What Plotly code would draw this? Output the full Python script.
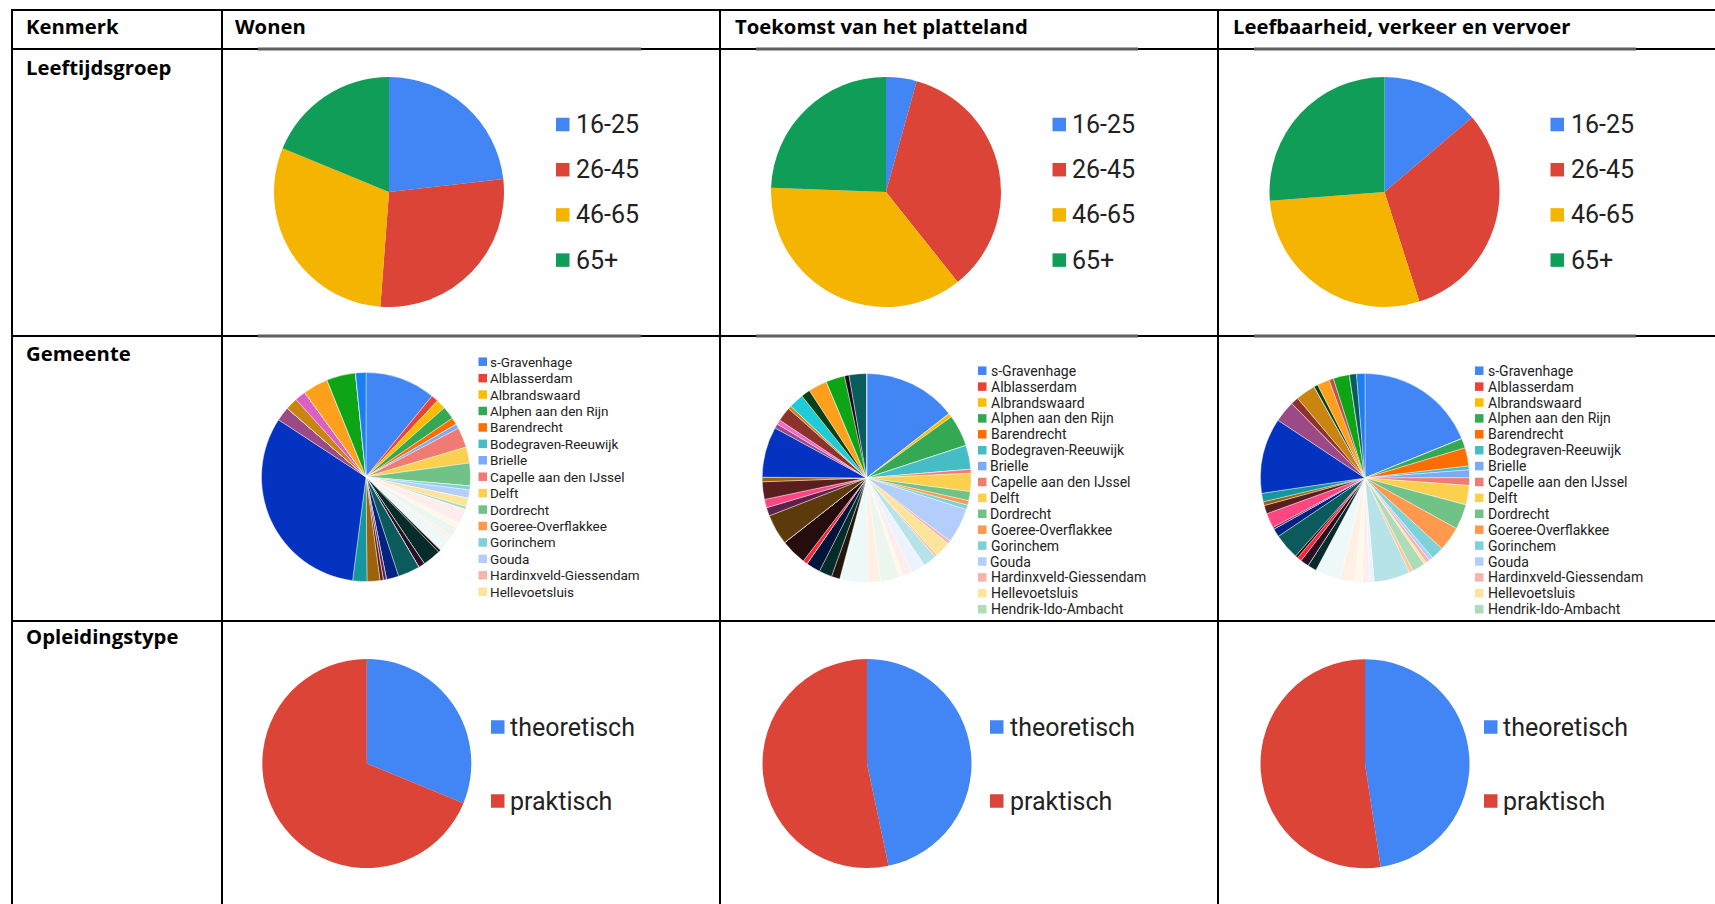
import plotly.graph_objects as go

W, H = 1715, 904

# ---------------- data ----------------
COLUMNS = ["Wonen", "Toekomst van het platteland", "Leefbaarheid, verkeer en vervoer"]
ROWS = ["Leeftijdsgroep", "Gemeente", "Opleidingstype"]
HEADER = "Kenmerk"

AGE_LABELS = ["16-25", "26-45", "46-65", "65+"]
AGE_COLORS = ["#4285F4", "#DB4437", "#F4B400", "#0F9D58"]
AGE_WONEN = [23.2, 28.0, 30.0, 18.8]
AGE_TOEKOMST = [4.3, 35.0, 36.3, 24.4]
AGE_LEEF = [13.8, 31.3, 28.7, 26.2]

EDU_LABELS = ["theoretisch", "praktisch"]
EDU_COLORS = ["#4285F4", "#DB4437"]
EDU_WONEN = [31.2, 68.8]
EDU_TOEKOMST = [46.7, 53.3]
EDU_LEEF = [47.6, 52.4]

GEMEENTEN = [
    "s-Gravenhage", "Alblasserdam", "Albrandswaard", "Alphen aan den Rijn", "Barendrecht",
    "Bodegraven-Reeuwijk", "Brielle", "Capelle aan den IJssel", "Delft", "Dordrecht",
    "Goeree-Overflakkee", "Gorinchem", "Gouda", "Hardinxveld-Giessendam", "Hellevoetsluis",
    "Hendrik-Ido-Ambacht", "Hillegom", "Hoeksche Waard", "Kaag en Braassem", "Katwijk",
    "Krimpen aan den IJssel", "Krimpenerwaard", "Lansingerland", "Leiden", "Leiderdorp",
    "Leidschendam-Voorburg", "Lisse", "Maassluis", "Midden-Delfland", "Molenlanden",
    "Nieuwkoop", "Nissewaard", "Noordwijk", "Oegstgeest", "Papendrecht",
    "Pijnacker-Nootdorp", "Ridderkerk", "Rijswijk", "Rotterdam", "Schiedam",
    "Sliedrecht", "Teylingen", "Vlaardingen", "Voorschoten", "Waddinxveen",
    "Wassenaar", "Westland", "Westvoorne", "Zoetermeer", "Zoeterwoude",
    "Zuidplas", "Zwijndrecht",
]
GEM_COLORS = [
    "#4285F4", "#EA4335", "#FBBC04", "#34A853", "#FF6D01", "#46BDC6", "#7BAAF7", "#F07B72",
    "#FCD04F", "#71C287", "#FF994D", "#7ED1D7", "#B3CEFB", "#F7B4AE", "#FDE49B", "#AEDCBA",
    "#FFC599", "#B5E3E8", "#ECF3FE", "#FDEDEC", "#FEF8E6", "#EBF6EE", "#FFF0E6", "#EDF8F9",
    "#22150A", "#062B2B", "#021439", "#2B0F22", "#FF2138", "#250D0D", "#0B5A5C", "#032282",
    "#5C3A0B", "#5E214B", "#FF4683", "#5B1E1E", "#9E620B", "#16969D", "#0433C2", "#9C4A87",
    "#F567CC", "#8D322C", "#C9850F", "#DC5FC6", "#1FCBD6", "#0A4114", "#FFA01C", "#C5504B",
    "#0DA415", "#1B0A1C", "#0A5C5C", "#1B7EF2",
]
GEM_WONEN = [10.9, 1.1, 1.5, 2.0, 1.1, 0, 0.7, 3.1, 2.5, 3.5,
             0, 0.6, 1.3, 0, 1.3, 0.5, 0, 0, 0, 2.3,
             0.8, 1.5, 0.5, 2.2, 0.4, 2.8, 0, 1.0, 0, 0,
             3.4, 1.9, 0, 0.5, 0, 0.5, 2.0, 2.2, 32.2, 2.2,
             0, 0, 1.9, 1.7, 0, 0, 3.9, 0, 4.5, 0,
             0, 1.6]
GEM_TOEKOMST = [14.4, 0, 0.6, 4.9, 0, 3.7, 0, 0.6, 2.8, 1.4,
                0.7, 0.7, 5.4, 0.5, 2.4, 0, 0.4, 2.1, 2.2, 1.4,
                0.6, 2.9, 2.1, 4.2, 1.3, 2.0, 2.2, 0, 0.7, 4.0,
                0, 0, 4.7, 1.3, 1.3, 2.7, 0.7, 0, 7.8, 0.7,
                0.7, 2.2, 0.5, 0, 2.3, 1.4, 2.9, 0, 2.9, 0.7,
                2.7, 0]
GEM_LEEF = [18.9, 0, 0, 1.5, 2.8, 0.6, 1.2, 1.2, 3.0, 3.9,
            3.8, 2.0, 0.6, 0.6, 0.4, 2.0, 0.6, 5.6, 0.7, 1.1,
            1.2, 0, 2.3, 3.9, 0, 1.4, 0, 1.3, 0.7, 0.4,
            4.0, 1.3, 0, 0.3, 2.3, 1.3, 0.6, 1.3, 11.7, 3.3,
            0, 1.2, 3.1, 0, 0, 0.6, 1.9, 0.7, 2.5, 0,
            1.1, 1.3]
GEM_LEGEND_COUNT = [15, 16, 16]

# ---------------- layout geometry (pixels) ----------------
COL_X = [12, 222, 720, 1218]
ROW_Y = [10, 49, 336, 621]
AGE_CENTERS = [(389, 192), (886, 192), (1384.5, 192)]
AGE_R = 115
GEM_CENTERS = [(366, 477), (866.7, 478), (1365, 478)]
GEM_R = 104.5
EDU_CENTERS = [(366.8, 763.5), (867, 763.6), (1365, 763.7)]
EDU_R = 104.5


def px(x):
    return x / W


def py(y):
    return 1 - y / H


fig = go.Figure()


def add_pie(labels, values, colors, center, r, line_w=0):
    cx, cy = center
    fig.add_trace(go.Pie(
        labels=labels, values=values, sort=False, direction="clockwise", rotation=0,
        marker=dict(colors=colors, line=dict(color="white", width=line_w)),
        textinfo="none", showlegend=False, hoverinfo="label+percent",
        domain=dict(x=[px(cx - r), px(cx + r)], y=[py(cy + r), py(cy - r)]),
    ))


for vals, c in zip([AGE_WONEN, AGE_TOEKOMST, AGE_LEEF], AGE_CENTERS):
    add_pie(AGE_LABELS, vals, AGE_COLORS, c, AGE_R)
for vals, c in zip([GEM_WONEN, GEM_TOEKOMST, GEM_LEEF], GEM_CENTERS):
    add_pie(GEMEENTEN, vals, GEM_COLORS, c, GEM_R, 0.4)
for vals, c in zip([EDU_WONEN, EDU_TOEKOMST, EDU_LEEF], EDU_CENTERS):
    add_pie(EDU_LABELS, vals, EDU_COLORS, c, EDU_R)

shapes = []
annotations = []


def line(x0, y0, x1, y1, color="black", width=2):
    shapes.append(dict(type="line", xref="paper", yref="paper",
                       x0=px(x0), y0=py(y0), x1=px(x1), y1=py(y1),
                       line=dict(color=color, width=width)))


def text(x, y, s, size, color="#000", family="Open Sans", bold=False):
    annotations.append(dict(
        xref="paper", yref="paper", x=px(x), y=py(y), xanchor="left", yanchor="middle",
        text=f"<b>{s}</b>" if bold else s, showarrow=False,
        font=dict(size=size, color=color, family=family), borderpad=0,
    ))


def legend(labels, colors, sq_x, sq, text_x, y0, dy, size):
    for i, (lab, col) in enumerate(zip(labels, colors)):
        yc = y0 + i * dy
        shapes.append(dict(type="rect", xref="paper", yref="paper",
                           x0=px(sq_x), x1=px(sq_x + sq), y0=py(yc + sq / 2), y1=py(yc - sq / 2),
                           fillcolor=col, line=dict(width=0)))
        text(text_x, yc, lab, size, color="#222222", family="Roboto")


# table lines
for y in ROW_Y:
    line(COL_X[0] - 1, y, W, y)
for x in COL_X:
    line(x, ROW_Y[0] - 1, x, H)
# grey chart-frame segments over the row lines
for y in [ROW_Y[1], ROW_Y[2]]:
    for xa, xb in [(258, 641), (756, 1138), (1254, 1636)]:
        line(xa, y, xb, y, color="#5f5f5f", width=3)

# table texts
FS = 20.3
text(25, 25.8, HEADER, FS, bold=True)
for x, s in zip([233.5, 733.5, 1231.5], COLUMNS):
    text(x, 25.8, s, FS, bold=True)
for y, s in zip([67.5, 353, 636], ROWS):
    text(25, y, s, FS, bold=True)

# legends
for sqx, tx in [(556, 575), (1052.5, 1071), (1550.5, 1570)]:
    legend(AGE_LABELS, AGE_COLORS, sqx, 13.5, tx, 124.5, 45.2, 25)
for sqx, tx in [(491, 509), (990, 1009), (1484, 1502)]:
    legend(EDU_LABELS, EDU_COLORS, sqx, 13.5, tx, 727, 74, 25)
gem_leg = [(478.5, 489, 361.7, 16.43, 13.5), (978, 989.5, 370.7, 15.9, 14),
           (1475, 1486.5, 370.7, 15.9, 14)]
for (sqx, tx, y0, dy, fs), n in zip(gem_leg, GEM_LEGEND_COUNT):
    legend(GEMEENTEN[:n], GEM_COLORS[:n], sqx, 8.5, tx, y0, dy, fs)

fig.update_layout(
    width=W, height=H, margin=dict(l=0, r=0, t=0, b=0),
    paper_bgcolor="white", plot_bgcolor="white",
    shapes=shapes, annotations=annotations, showlegend=False,
)

fig.write_html("out.html", config={"displayModeBar": False},
               post_script="document.body.style.margin='0px';document.body.style.overflow='hidden';")
